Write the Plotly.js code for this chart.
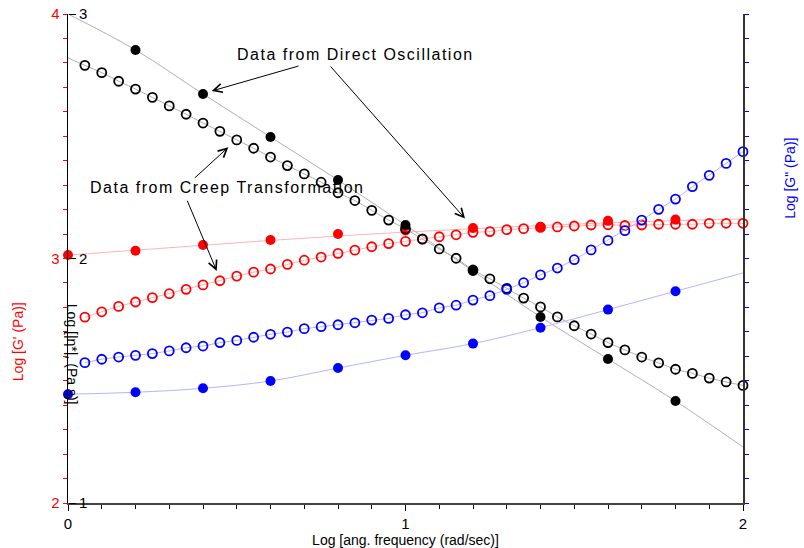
<!DOCTYPE html>
<html>
<head>
<meta charset="utf-8">
<script src="https://cdn.plot.ly/plotly-3.0.1.min.js"></script>
<style>
html,body{margin:0;padding:0;background:#fff;}
#chart{width:804px;height:548px;}
text.annotation-text[data-unformatted^="Data"]{letter-spacing:1.5px;}
</style>
</head>
<body>
<div id="chart"></div>
<script>
// Log angular frequency (rad/s)
const directX = [0, 0.2, 0.4, 0.6, 0.8, 1.0, 1.2, 1.4, 1.6, 1.8];
const fitX = [0, 0.2, 0.4, 0.6, 0.8, 1.0, 1.2, 1.4, 1.6, 1.8, 2.0];
const creepX = [0.05, 0.10, 0.15, 0.20, 0.25, 0.30, 0.35, 0.40, 0.45, 0.50,
                0.55, 0.60, 0.65, 0.70, 0.75, 0.80, 0.85, 0.90, 0.95, 1.00,
                1.05, 1.10, 1.15, 1.20, 1.25, 1.30, 1.35, 1.40, 1.45, 1.50,
                1.55, 1.60, 1.65, 1.70, 1.75, 1.80, 1.85, 1.90, 1.95, 2.00];

// Data from direct oscillation
const etaDirect = [null, 2.853, 2.673, 2.497, 2.321, 2.137, 1.949, 1.761, 1.589, 1.417];
const gpDirect  = [3.014, 3.032, 3.055, 3.076, 3.100, 3.115, 3.125, 3.130, 3.154, 3.159];
const gppDirect = [2.445, 2.453, 2.469, 2.499, 2.552, 2.604, 2.652, 2.717, 2.791, 2.866];

// Fitted curves through the direct oscillation data
const etaFit = [3.000, 2.853, 2.673, 2.497, 2.321, 2.137, 1.949, 1.761, 1.589, 1.417, 1.229];
const gpFit  = [3.014, 3.034, 3.054, 3.074, 3.092, 3.108, 3.122, 3.135, 3.146, 3.155, 3.162];
const gppFit = [2.445, 2.453, 2.469, 2.499, 2.552, 2.604, 2.652, 2.717, 2.791, 2.866, 2.941];

// Data from creep transformation
const etaCreep = [2.790, 2.760, 2.725, 2.693, 2.659, 2.624, 2.590, 2.554, 2.520, 2.485,
                  2.451, 2.415, 2.380, 2.346, 2.312, 2.269, 2.237, 2.197, 2.157, 2.121,
                  2.079, 2.039, 2.001, 1.953, 1.917, 1.878, 1.838, 1.802, 1.761, 1.725,
                  1.691, 1.656, 1.626, 1.597, 1.573, 1.547, 1.530, 1.511, 1.495, 1.481];
const gpCreep = [2.760, 2.782, 2.804, 2.822, 2.840, 2.856, 2.874, 2.892, 2.909, 2.928,
                 2.944, 2.957, 2.976, 2.993, 3.006, 3.021, 3.034, 3.048, 3.061, 3.070,
                 3.080, 3.089, 3.097, 3.107, 3.110, 3.118, 3.122, 3.127, 3.129, 3.133,
                 3.137, 3.138, 3.135, 3.137, 3.140, 3.140, 3.140, 3.144, 3.144, 3.144];
const gppCreep = [2.574, 2.588, 2.597, 2.604, 2.611, 2.622, 2.635, 2.642, 2.656, 2.665,
                  2.678, 2.690, 2.699, 2.713, 2.721, 2.729, 2.737, 2.748, 2.755, 2.770,
                  2.778, 2.798, 2.809, 2.830, 2.848, 2.874, 2.901, 2.933, 2.961, 2.995,
                  3.035, 3.074, 3.114, 3.157, 3.201, 3.243, 3.294, 3.340, 3.389, 3.437];
const etaCreepAtZero = 2.820;

const FONT = 'Liberation Sans, Arial, sans-serif';
const RED = '#ff0000', BLUE = '#0000ff', BLACK = '#000000';

function fitLine(x, y, axis, color) {
  return {x: x, y: y, yaxis: axis, mode: 'lines', line: {color: color, width: 1, shape: 'spline'},
          hoverinfo: 'skip', cliponaxis: false};
}
function openPts(x, y, axis, color, lineColor) {
  return {x: x, y: y, yaxis: axis, mode: 'lines+markers', line: {color: lineColor, width: 1},
          marker: {symbol: 'circle-open', size: 9, color: color, line: {color: color, width: 1.8}},
          cliponaxis: false};
}
function filledPts(x, y, axis, color) {
  return {x: x, y: y, yaxis: axis, mode: 'markers',
          marker: {symbol: 'circle', size: 10, color: color}, cliponaxis: false};
}

const traces = [
  fitLine(fitX, gpFit, 'y', '#ffb4b4'),
  fitLine(fitX, gppFit, 'y3', '#b4b4ff'),
  fitLine(fitX, etaFit, 'y2', '#b0b0b0'),
  fitLine([0].concat(creepX), [etaCreepAtZero].concat(etaCreep), 'y2', '#b0b0b0'),
  openPts(creepX, gpCreep, 'y', RED, '#ffb4b4'),
  openPts(creepX, gppCreep, 'y3', BLUE, '#b4b4ff'),
  openPts(creepX, etaCreep, 'y2', BLACK, 'rgba(0,0,0,0)'),
  filledPts(directX, gpDirect, 'y', RED),
  filledPts(directX, gppDirect, 'y3', BLUE),
  filledPts(directX, etaDirect, 'y2', BLACK)
];

function arrow(tipX, tipY, tailX, tailY) {
  return {x: tipX, y: tipY, ax: tailX, ay: tailY, xref: 'x', yref: 'y', axref: 'x', ayref: 'y',
          text: '', showarrow: true, arrowhead: 5, arrowsize: 1.7, arrowwidth: 1,
          arrowcolor: '#000', standoff: 0, startstandoff: 0};
}

const layout = {
  width: 804, height: 548,
  margin: {l: 68, r: 61, t: 14, b: 45, pad: 0},
  paper_bgcolor: '#fff', plot_bgcolor: '#fff',
  showlegend: false,
  font: {family: FONT, size: 14, color: BLACK},
  xaxis: {
    range: [0, 2], showgrid: false, zeroline: false,
    showline: true, linecolor: '#444', linewidth: 2,
    ticks: 'outside', ticklen: 6, tickcolor: '#000', tickwidth: 1,
    tickvals: [0, 1, 2], ticktext: ['0', '1', '2'],
    tickfont: {family: FONT, size: 15, color: BLACK},
    minor: {dtick: 0.1, ticks: 'outside', ticklen: 4, tickcolor: '#000'},
    title: {text: 'Log [ang. frequency (rad/sec)]', font: {family: FONT, size: 14, color: BLACK}, standoff: 6}
  },
  yaxis: {
    range: [2, 4], showgrid: false, zeroline: false,
    showline: true, linecolor: '#000', linewidth: 1.5,
    ticks: 'outside', ticklen: 4, tickcolor: RED, tickwidth: 1,
    tickvals: [2, 3, 4], ticktext: ['2', '3', '4'],
    tickfont: {family: FONT, size: 15, color: RED},
    minor: {dtick: 0.1, ticks: 'outside', ticklen: 4, tickcolor: RED}
  },
  yaxis2: {
    range: [1, 3], overlaying: 'y', side: 'right', anchor: 'free', position: 0,
    showgrid: false, zeroline: false, showline: false,
    ticks: 'outside', ticklen: 7, tickcolor: '#000', tickwidth: 1,
    tickvals: [1, 2, 3], ticktext: ['1', '2', '3'],
    tickfont: {family: FONT, size: 15, color: BLACK}
  },
  yaxis3: {
    range: [2, 4], overlaying: 'y', side: 'right', anchor: 'x',
    showgrid: false, zeroline: false,
    showline: true, linecolor: '#333', linewidth: 2,
    ticks: 'outside', ticklen: 4, tickcolor: BLUE, tickwidth: 1,
    dtick: 0.1, showticklabels: false
  },
  annotations: [
    {x: 0.8504, y: 3.836, xref: 'x', yref: 'y', text: 'Data from Direct Oscillation', showarrow: false,
     xanchor: 'center', yanchor: 'middle', font: {family: FONT, size: 16, color: BLACK}},
    {x: 0.4711, y: 3.292, xref: 'x', yref: 'y', text: 'Data from Creep Transformation', showarrow: false,
     xanchor: 'center', yanchor: 'middle', font: {family: FONT, size: 16, color: BLACK}},
    arrow(0.4258, 3.685, 0.6874, 3.789),
    arrow(1.1763, 3.1636, 0.7742, 3.7914),
    arrow(0.4750, 3.455, 0.3713, 3.324),
    arrow(0.4406, 2.949, 0.3517, 3.242),
    {x: -0.074, y: 0.329, xref: 'paper', yref: 'paper', text: "Log [G' (Pa)]", textangle: -90,
     xanchor: 'center', yanchor: 'middle', showarrow: false, font: {family: FONT, size: 14, color: RED}},
    {x: 1.0696, y: 0.665, xref: 'paper', yref: 'paper', text: 'Log [G" (Pa)]', textangle: -90,
     xanchor: 'center', yanchor: 'middle', showarrow: false, font: {family: FONT, size: 14, color: BLUE}},
    {x: 0.006, y: 0.305, xref: 'paper', yref: 'paper', text: 'Log [|η*|, (Pa s)]', textangle: 90,
     xanchor: 'center', yanchor: 'middle', showarrow: false, font: {family: FONT, size: 14, color: BLACK}}
  ]
};

Plotly.newPlot('chart', traces, layout, {displayModeBar: false, staticPlot: true});
</script>
</body>
</html>
